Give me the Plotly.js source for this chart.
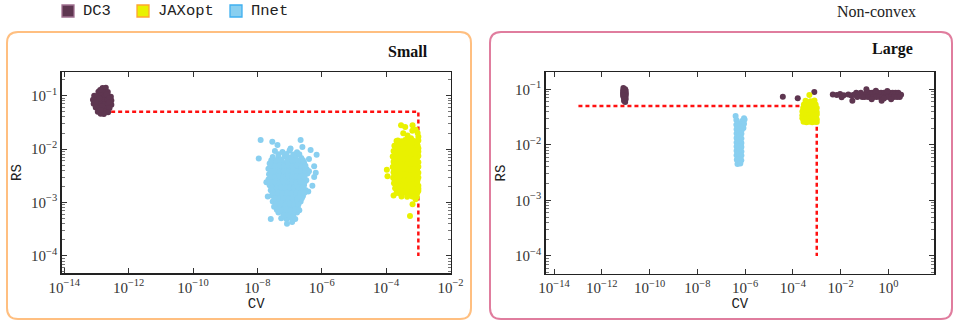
<!DOCTYPE html>
<html><head><meta charset="utf-8">
<script src="https://cdn.plot.ly/plotly-3.0.1.min.js"></script>
<style>html,body{margin:0;padding:0;background:#fff}#chart{width:953px;height:324px}</style>
</head><body><div id="chart"></div>
<script>
// ---------- data ----------
const seriesNames = ['DC3', 'JAXopt', 'Πnet'];
const panelTitles = ['Small', 'Large'];
const figureTitle = 'Non-convex';

// threshold boundary (CV, RS)
const thresholdCV = [1.05e-13, 1e-3, 1e-3];
const thresholdRS = [0.05, 0.05, 1e-4];

// tick exponents
const smallXTickExp = [-14, -12, -10, -8, -6, -4, -2];
const largeXTickExp = [-14, -12, -10, -8, -6, -4, -2, 0];
const yTickExp = [-4, -3, -2, -1];

// ---- Small problem: [CV, RS] ----
const smallDC3 = [
  [1.55e-13,0.139],[1.95e-13,0.141],
  [1.15e-13,0.118],[1.45e-13,0.12],[1.8e-13,0.116],[2.25e-13,0.117],
  [8.5e-14,0.1],[1.1e-13,0.098],[1.4e-13,0.1],[1.8e-13,0.097],[2.3e-13,0.099],[2.8e-13,0.096],
  [7.8e-14,0.084],[1.02e-13,0.082],[1.32e-13,0.085],[1.7e-13,0.082],[2.2e-13,0.084],[2.9e-13,0.081],
  [8.2e-14,0.071],[1.07e-13,0.069],[1.38e-13,0.071],[1.8e-13,0.069],[2.3e-13,0.07],[2.9e-13,0.068],
  [9.5e-14,0.06],[1.2e-13,0.058],[1.55e-13,0.06],[2e-13,0.058],[2.55e-13,0.059],
  [1.1e-13,0.05],[1.4e-13,0.049],[1.8e-13,0.05],[2.3e-13,0.049],
  [1.35e-13,0.046],[1.7e-13,0.0455],
  [1.3e-13,0.128],[2.05e-13,0.107],[1.25e-13,0.09],[2.5e-13,0.09],[9.5e-14,0.076],[2.55e-13,0.076],[1.5e-13,0.064],[1.35e-13,0.054]
];
const smallJAXopt = [
  [2.9e-4,2.8e-2],[3.9e-4,2.6e-2],[6.6e-4,2.8e-2],[8.3e-4,2.3e-2],[4.6e-4,1.8e-2],[3.4e-4,1.98e-2],
  [5.9e-4,1.6e-2],[9.5e-4,2e-2],[6.5e-4,2.2e-2],[1e-3,1.7e-2],[2.1e-4,1.42e-2],
  [2.3e-4,1.45e-2],[3e-4,1.4e-2],[3.9e-4,1.48e-2],[5e-4,1.42e-2],[6.5e-4,1.47e-2],[8.3e-4,1.4e-2],[1e-3,1.45e-2],
  [1.8e-4,1.15e-2],[2.3e-4,1.18e-2],[2.9e-4,1.13e-2],[3.7e-4,1.17e-2],[4.7e-4,1.13e-2],[6e-4,1.17e-2],[7.6e-4,1.13e-2],[9.5e-4,1.17e-2],
  [1.7e-4,9.2e-3],[2.1e-4,9.5e-3],[2.7e-4,9e-3],[3.4e-4,9.4e-3],[4.3e-4,9e-3],[5.5e-4,9.4e-3],[7e-4,9e-3],[8.8e-4,9.4e-3],[1e-3,9e-3],
  [1.6e-4,7.3e-3],[2e-4,7.1e-3],[2.5e-4,7.5e-3],[3.2e-4,7.1e-3],[4e-4,7.5e-3],[5e-4,7.1e-3],[6.3e-4,7.5e-3],[8e-4,7.1e-3],[1e-3,7.4e-3],
  [1.7e-4,5.8e-3],[2.15e-4,5.95e-3],[2.7e-4,5.65e-3],[3.4e-4,5.9e-3],[4.3e-4,5.65e-3],[5.5e-4,5.9e-3],[7e-4,5.65e-3],[8.8e-4,5.9e-3],[1e-3,5.7e-3],
  [1.6e-4,4.6e-3],[2e-4,4.5e-3],[2.5e-4,4.7e-3],[3.2e-4,4.5e-3],[4e-4,4.7e-3],[5e-4,4.5e-3],[6.3e-4,4.7e-3],[8e-4,4.5e-3],[1e-3,4.65e-3],
  [1.7e-4,3.7e-3],[2.15e-4,3.8e-3],[2.7e-4,3.6e-3],[3.4e-4,3.8e-3],[4.3e-4,3.6e-3],[5.5e-4,3.8e-3],[7e-4,3.6e-3],[8.8e-4,3.8e-3],[1e-3,3.6e-3],
  [1.65e-4,2.9e-3],[2.05e-4,2.85e-3],[2.6e-4,2.95e-3],[3.3e-4,2.85e-3],[4.2e-4,2.95e-3],[5.3e-4,2.85e-3],[6.7e-4,2.95e-3],[8.5e-4,2.85e-3],[1e-3,2.95e-3],
  [1.75e-4,2.3e-3],[2.2e-4,2.35e-3],[2.8e-4,2.25e-3],[3.6e-4,2.35e-3],[4.6e-4,2.25e-3],[5.8e-4,2.35e-3],[7.4e-4,2.25e-3],[9.2e-4,2.35e-3],
  [1.9e-4,1.85e-3],[2.4e-4,1.8e-3],[3.1e-4,1.88e-3],[4e-4,1.8e-3],[5.1e-4,1.88e-3],[6.5e-4,1.8e-3],[8.2e-4,1.88e-3],[1e-3,1.82e-3],
  [2.1e-4,1.5e-3],[2.7e-4,1.47e-3],[3.5e-4,1.52e-3],[4.5e-4,1.47e-3],[5.8e-4,1.52e-3],[7.4e-4,1.47e-3],[9.3e-4,1.52e-3],
  [3e-4,1.3e-3],[4.5e-4,1.28e-3],[6.5e-4,1.3e-3],[9e-4,1.28e-3],
  [1.05e-4,4.1e-3],[1.1e-4,3.1e-3],[1.7e-4,1.35e-3],[6.6e-4,9.3e-4],[5.5e-4,5.6e-4],[8.2e-4,1.15e-3],
  [2.6e-4,1.3e-2],[3.4e-4,1.28e-2],[4.4e-4,1.31e-2],[5.6e-4,1.27e-2],[7.2e-4,1.31e-2],[9e-4,1.28e-2],
  [2e-4,1.03e-2],[2.55e-4,1.05e-2],[3.2e-4,1.01e-2],[4.1e-4,1.05e-2],[5.2e-4,1.01e-2],[6.6e-4,1.05e-2],[8.4e-4,1.01e-2],[1e-3,1.04e-2],
  [1.85e-4,8.2e-3],[2.3e-4,8e-3],[2.9e-4,8.4e-3],[3.7e-4,8e-3],[4.7e-4,8.4e-3],[6e-4,8e-3],[7.5e-4,8.4e-3],[9.4e-4,8.1e-3],
  [1.8e-4,6.5e-3],[2.25e-4,6.7e-3],[2.85e-4,6.4e-3],[3.6e-4,6.7e-3],[4.5e-4,6.4e-3],[5.6e-4,6.7e-3],[7.1e-4,6.4e-3],[9e-4,6.6e-3],
  [1.8e-4,5.2e-3],[2.25e-4,5.1e-3],[2.85e-4,5.3e-3],[3.6e-4,5.1e-3],[4.5e-4,5.3e-3],[5.6e-4,5.1e-3],[7.1e-4,5.3e-3],[9e-4,5.1e-3],
  [1.8e-4,4.1e-3],[2.25e-4,4.2e-3],[2.85e-4,4e-3],[3.6e-4,4.2e-3],[4.5e-4,4e-3],[5.6e-4,4.2e-3],[7.1e-4,4e-3],[9e-4,4.2e-3],
  [1.8e-4,3.3e-3],[2.25e-4,3.25e-3],[2.85e-4,3.35e-3],[3.6e-4,3.25e-3],[4.5e-4,3.35e-3],[5.6e-4,3.25e-3],[7.1e-4,3.35e-3],[9e-4,3.25e-3],
  [1.85e-4,2.6e-3],[2.3e-4,2.65e-3],[2.9e-4,2.55e-3],[3.7e-4,2.65e-3],[4.7e-4,2.55e-3],[6e-4,2.65e-3],[7.5e-4,2.55e-3],[9.4e-4,2.62e-3],
  [2e-4,2.05e-3],[2.55e-4,2.02e-3],[3.2e-4,2.08e-3],[4.1e-4,2.02e-3],[5.2e-4,2.08e-3],[6.6e-4,2.02e-3],[8.4e-4,2.08e-3],[1e-3,2.05e-3],
  [2.4e-4,1.65e-3],[3.1e-4,1.62e-3],[4e-4,1.67e-3],[5.1e-4,1.62e-3],[6.5e-4,1.67e-3],[8.2e-4,1.63e-3],[1e-3,1.66e-3]
];
const smallPiNet = [
  [1.26e-8,1.48e-2],[2.9e-8,1.38e-2],[2.2e-7,1.48e-2],[1.1e-8,6.7e-3],[4.2e-8,1.2e-2],[1.07e-7,1.03e-2],
  [2.5e-7,1.1e-2],[4.5e-7,9.6e-3],[6.9e-7,7.8e-3],[5.8e-7,4.8e-3],[5.8e-7,3e-3],[1.9e-8,2.4e-3],
  [2.1e-8,1.3e-3],[6.5e-7,3.6e-3],[5.1e-7,2.05e-3],[2.6e-8,4.9e-4],[4e-7,6.5e-3],[3.8e-7,1.6e-3],
  [3.5e-8,9.2e-3],[6e-8,8.8e-3],[1e-7,9.4e-3],[1.7e-7,8.7e-3],
  [3e-8,7.1e-3],[4.5e-8,6.8e-3],[7e-8,7.3e-3],[1e-7,6.9e-3],[1.5e-7,7.2e-3],[2.3e-7,6.8e-3],
  [2.4e-8,5.4e-3],[3.3e-8,5.7e-3],[4.5e-8,5.5e-3],[6e-8,5.3e-3],[8e-8,5.6e-3],[1.1e-7,5.4e-3],[1.5e-7,5.7e-3],[2e-7,5.3e-3],[2.8e-7,5.6e-3],
  [2.2e-8,4.3e-3],[3e-8,4.1e-3],[4e-8,4.4e-3],[5.5e-8,4.2e-3],[7.5e-8,4.4e-3],[1e-7,4.2e-3],[1.35e-7,4.4e-3],[1.8e-7,4.1e-3],[2.5e-7,4.3e-3],[3.4e-7,4.2e-3],
  [2.3e-8,3.4e-3],[3.2e-8,3.5e-3],[4.4e-8,3.3e-3],[6e-8,3.5e-3],[8.2e-8,3.3e-3],[1.1e-7,3.5e-3],[1.5e-7,3.3e-3],[2e-7,3.5e-3],[2.7e-7,3.3e-3],[3.6e-7,3.5e-3],
  [2.2e-8,2.7e-3],[3e-8,2.6e-3],[4e-8,2.8e-3],[5.5e-8,2.6e-3],[7.5e-8,2.75e-3],[1e-7,2.6e-3],[1.35e-7,2.8e-3],[1.8e-7,2.65e-3],[2.5e-7,2.75e-3],[3.3e-7,2.6e-3],
  [2.4e-8,2.1e-3],[3.3e-8,2.2e-3],[4.5e-8,2.05e-3],[6e-8,2.15e-3],[8e-8,2.05e-3],[1.1e-7,2.2e-3],[1.5e-7,2.05e-3],[2e-7,2.15e-3],[2.8e-7,2.1e-3],
  [2.6e-8,1.7e-3],[3.6e-8,1.65e-3],[5e-8,1.75e-3],[7e-8,1.65e-3],[9.5e-8,1.72e-3],[1.3e-7,1.66e-3],[1.75e-7,1.74e-3],[2.4e-7,1.66e-3],[3.1e-7,1.72e-3],
  [2.8e-8,1.35e-3],[4e-8,1.32e-3],[5.5e-8,1.38e-3],[7.5e-8,1.32e-3],[1e-7,1.37e-3],[1.4e-7,1.33e-3],[1.9e-7,1.37e-3],[2.6e-7,1.33e-3],
  [3e-8,1.05e-3],[4.2e-8,1.08e-3],[6e-8,1.03e-3],[8.5e-8,1.07e-3],[1.2e-7,1.03e-3],[1.6e-7,1.07e-3],[2.2e-7,1.04e-3],
  [3.3e-8,8.3e-4],[4.8e-8,8.1e-4],[6.8e-8,8.4e-4],[9.5e-8,8.1e-4],[1.3e-7,8.4e-4],[1.8e-7,8.2e-4],
  [4.5e-8,6.5e-4],[6.5e-8,6.3e-4],[9e-8,6.6e-4],[1.25e-7,6.3e-4],[1.7e-7,6.5e-4],
  [5.5e-8,5.1e-4],[8e-8,4.9e-4],[1.1e-7,5.2e-4],[1.5e-7,4.9e-4],
  [8.3e-8,4e-4],[1.2e-7,4.3e-4],
  [4.5e-8,8e-3],[8e-8,8.1e-3],[1.3e-7,7.9e-3],[2e-7,8e-3],
  [2.7e-8,6.2e-3],[3.8e-8,6.1e-3],[5.5e-8,6.3e-3],[8.5e-8,6.1e-3],[1.2e-7,6.3e-3],[1.8e-7,6.1e-3],[2.6e-7,6.2e-3],
  [2.6e-8,4.9e-3],[3.5e-8,4.8e-3],[4.9e-8,5e-3],[6.8e-8,4.8e-3],[9.2e-8,5e-3],[1.25e-7,4.8e-3],[1.7e-7,5e-3],[2.3e-7,4.8e-3],[3.1e-7,4.9e-3],
  [2.6e-8,3.8e-3],[3.6e-8,3.9e-3],[4.8e-8,3.75e-3],[6.6e-8,3.9e-3],[9e-8,3.75e-3],[1.25e-7,3.9e-3],[1.65e-7,3.75e-3],[2.25e-7,3.9e-3],[3e-7,3.75e-3],[4e-7,3.85e-3],
  [2.6e-8,3.05e-3],[3.5e-8,3e-3],[4.8e-8,3.1e-3],[6.5e-8,3e-3],[9e-8,3.1e-3],[1.2e-7,3e-3],[1.65e-7,3.1e-3],[2.2e-7,3e-3],[2.9e-7,3.08e-3],
  [2.6e-8,2.4e-3],[3.5e-8,2.45e-3],[4.8e-8,2.35e-3],[6.5e-8,2.45e-3],[9e-8,2.35e-3],[1.2e-7,2.45e-3],[1.6e-7,2.35e-3],[2.2e-7,2.45e-3],[2.9e-7,2.38e-3],
  [2.9e-8,1.9e-3],[4e-8,1.87e-3],[5.4e-8,1.93e-3],[7.3e-8,1.87e-3],[1e-7,1.93e-3],[1.35e-7,1.87e-3],[1.8e-7,1.93e-3],[2.5e-7,1.88e-3],
  [3.1e-8,1.5e-3],[4.3e-8,1.53e-3],[6e-8,1.48e-3],[8.3e-8,1.53e-3],[1.15e-7,1.48e-3],[1.6e-7,1.53e-3],[2.2e-7,1.48e-3],[2.9e-7,1.52e-3],
  [3.4e-8,1.2e-3],[4.8e-8,1.18e-3],[6.5e-8,1.22e-3],[9e-8,1.18e-3],[1.25e-7,1.22e-3],[1.75e-7,1.18e-3],[2.4e-7,1.2e-3],
  [3.8e-8,9.3e-4],[5.2e-8,9.5e-4],[7.3e-8,9.1e-4],[1e-7,9.5e-4],[1.4e-7,9.1e-4],[1.9e-7,9.4e-4],
  [4e-8,7.3e-4],[5.6e-8,7.1e-4],[7.8e-8,7.4e-4],[1.1e-7,7.1e-4],[1.5e-7,7.4e-4],[2e-7,7.2e-4],
  [6.5e-8,5.7e-4],[9.5e-8,5.8e-4],[1.3e-7,5.6e-4]
];

// ---- Large problem: [CV, RS] ----
const largeDC3 = [
  [8e-12,0.105],[9.5e-12,0.1],[7.8e-12,0.095],[1e-11,0.094],[7.8e-12,0.087],[1e-11,0.086],[8.8e-12,0.09],
  [8.8e-12,0.08],[7.8e-12,0.076],[1e-11,0.076],[8.5e-12,0.069],[1e-11,0.067],[8.5e-12,0.062],[9.5e-12,0.059],
  [8.8e-12,0.072],[1e-11,0.082],[7.8e-12,0.082],[8.8e-12,0.097],
  [3.8e-5,0.0736],[1.6e-4,0.069],[7.9e-4,0.089],
  [4.7e-3,0.081],[6.9e-3,0.079],[9.5e-3,0.082],[1.35e-2,0.078],[2.1e-2,0.081],[2.8e-2,0.077],[1.1e-2,0.072],[3.1e-2,0.062],[3.6e-2,0.08],
  [0.045,0.087],[0.07,0.087],[0.12,0.087],[0.16,0.087],[0.21,0.087],[0.28,0.087],[0.37,0.087],[0.49,0.087],[0.65,0.087],[0.85,0.087],[1.1,0.087],[1.5,0.087],[2.0,0.087],[2.6,0.087],
  [0.04,0.08],[0.053,0.08],[0.07,0.08],[0.092,0.08],[0.12,0.08],[0.16,0.08],[0.21,0.08],[0.28,0.08],[0.37,0.08],[0.49,0.08],[0.65,0.08],[0.85,0.08],[1.1,0.08],[1.5,0.08],[2.0,0.08],[2.6,0.08],[3.4,0.08],
  [0.05,0.073],[0.08,0.073],[0.1,0.073],[0.14,0.073],[0.18,0.073],[0.24,0.073],[0.32,0.073],[0.43,0.073],[0.57,0.073],[0.75,0.073],[1.0,0.073],[1.3,0.073],[1.7,0.073],[2.3,0.073],[3.0,0.073],
  [0.12,0.1],[0.52,0.062],[0.3,0.094],[0.9,0.093],[0.2,0.066],[1.3,0.066],[0.65,0.068]
];
const largeJAXopt = [
  [4.9e-4,0.079],
  [3.4e-4,0.062],[5.5e-4,0.061],[8e-4,0.063],
  [2.9e-4,0.053],[3.9e-4,0.054],[5.2e-4,0.052],[6.9e-4,0.054],[9e-4,0.053],
  [2.7e-4,0.046],[3.6e-4,0.045],[4.8e-4,0.047],[6.3e-4,0.045],[8.3e-4,0.047],[1e-3,0.046],
  [2.5e-4,0.04],[3.3e-4,0.039],[4.4e-4,0.041],[5.8e-4,0.039],[7.6e-4,0.041],[1e-3,0.039],
  [2.5e-4,0.034],[3.3e-4,0.035],[4.4e-4,0.034],[5.8e-4,0.035],[7.6e-4,0.034],[1e-3,0.035],
  [2.5e-4,0.03],[3.3e-4,0.029],[4.4e-4,0.03],[5.8e-4,0.029],[7.6e-4,0.03],[1e-3,0.029],
  [2.8e-4,0.026],[3.7e-4,0.0255],[4.9e-4,0.026],[6.5e-4,0.0255],[8.5e-4,0.026],[1e-3,0.0257]
];
const largePiNet = [
  [4e-7,0.033],[9e-7,0.03],
  [4.3e-7,0.028],[7.5e-7,0.027],[9.5e-7,0.0285],
  [4.3e-7,0.023],[5.7e-7,0.024],[7.5e-7,0.022],[9e-7,0.024],
  [4.4e-7,0.019],[5.7e-7,0.0195],[7.2e-7,0.0185],[8.5e-7,0.02],
  [4.4e-7,0.016],[5.6e-7,0.0165],[7e-7,0.0158],
  [4.4e-7,0.0133],[5.6e-7,0.0137],[7e-7,0.013],
  [4.4e-7,0.011],[5.6e-7,0.0113],[7e-7,0.0108],
  [4.4e-7,0.0093],[5.6e-7,0.0095],[7e-7,0.0091],
  [4.4e-7,0.0078],[5.6e-7,0.008],[7e-7,0.0076],
  [4.4e-7,0.0065],[5.6e-7,0.0066],[7e-7,0.0064],
  [4.5e-7,0.0054],[5.7e-7,0.0055],[6.9e-7,0.0053],
  [4.8e-7,0.0045],[6.3e-7,0.0046]
];

// ---------- styling ----------
const colors = { 'DC3': '#5E3650', 'JAXopt': '#E9F100', 'Πnet': '#89CFF0' };
const legendBorder = { 'DC3': '#A07090', 'JAXopt': '#FFA530', 'Πnet': '#3FB0F0' };
const W = 953, H = 324;
const px = v => v / W;
const py = v => 1 - v / H;
const serif = 'Liberation Serif';
const mono = 'Liberation Mono';

const tickText = e => '10<sup>' + (e < 0 ? '−' + (-e) : e) + '</sup>';
const minorY = [];
for (let d = -5; d <= -1; d++) for (let m = 2; m <= 9; m++) minorY.push(m * Math.pow(10, d));

function scatterTrace(pts, name, xa, ya) {
  return {
    type: 'scatter', mode: 'markers', name: name, showlegend: false,
    x: pts.map(p => p[0]), y: pts.map(p => p[1]), xaxis: xa, yaxis: ya,
    marker: { color: colors[name], size: 6, line: { width: 0 } },
    hoverinfo: 'skip'
  };
}
function thresholdTrace(xa, ya) {
  return {
    type: 'scatter', mode: 'lines', showlegend: false, name: 'threshold',
    x: thresholdCV, y: thresholdRS, xaxis: xa, yaxis: ya,
    line: { color: '#FF1010', width: 2.5, dash: '4px,3px' }, hoverinfo: 'skip'
  };
}

const data = [
  thresholdTrace('x', 'y'),
  scatterTrace(smallDC3, 'DC3', 'x', 'y'),
  scatterTrace(smallJAXopt, 'JAXopt', 'x', 'y'),
  scatterTrace(smallPiNet, 'Πnet', 'x', 'y'),
  thresholdTrace('x2', 'y2'),
  scatterTrace(largeDC3, 'DC3', 'x2', 'y2'),
  scatterTrace(largeJAXopt, 'JAXopt', 'x2', 'y2'),
  scatterTrace(largePiNet, 'Πnet', 'x2', 'y2')
];

function xAxis(domain, range, exps, anchor) {
  return {
    type: 'log', domain: domain, range: range, anchor: anchor,
    tickmode: 'array', tickvals: exps.map(e => Math.pow(10, e)), ticktext: exps.map(tickText),
    ticks: 'inside', ticklen: 5, tickwidth: 1, tickcolor: '#333',
    showline: true, linecolor: '#222', linewidth: 1.5, mirror: 'ticks',
    showgrid: false, zeroline: false,
    tickfont: { family: serif, size: 15, color: '#333' },
    title: { text: 'CV', font: { family: mono, size: 14, color: '#222' }, standoff: 3 }
  };
}
function yAxis(domain, range, anchor) {
  return {
    type: 'log', domain: domain, range: range, anchor: anchor,
    tickmode: 'array', tickvals: yTickExp.map(e => Math.pow(10, e)), ticktext: yTickExp.map(tickText),
    ticks: 'inside', ticklen: 5, tickwidth: 1, tickcolor: '#333',
    minor: { tickmode: 'array', tickvals: minorY, ticks: 'inside', ticklen: 3, tickwidth: 0.8, tickcolor: '#555', showgrid: false },
    showline: true, linecolor: '#222', linewidth: 1.5, mirror: 'ticks',
    showgrid: false, zeroline: false,
    tickfont: { family: serif, size: 15, color: '#333' },
    title: { text: 'RS', font: { family: mono, size: 14, color: '#222' }, standoff: 6 }
  };
}

function roundRect(x0, y0, x1, y1, r, color) {
  const X0 = px(x0), X1 = px(x1), Yt = py(y0), Yb = py(y1), rx = r / W, ry = r / H;
  const path = `M ${X0 + rx},${Yt} L ${X1 - rx},${Yt} Q ${X1},${Yt} ${X1},${Yt - ry} L ${X1},${Yb + ry} Q ${X1},${Yb} ${X1 - rx},${Yb} L ${X0 + rx},${Yb} Q ${X0},${Yb} ${X0},${Yb + ry} L ${X0},${Yt - ry} Q ${X0},${Yt} ${X0 + rx},${Yt} Z`;
  return { type: 'path', xref: 'paper', yref: 'paper', path: path, line: { color: color, width: 2 }, fillcolor: 'rgba(0,0,0,0)', layer: 'below' };
}

const legendX = [62, 137, 230];
const shapes = [
  roundRect(7, 32, 471, 319, 11, '#FFBF80'),
  roundRect(490, 32, 952, 319, 11, '#E07D9E')
];
const annotations = [];
seriesNames.forEach((n, i) => {
  shapes.push({ type: 'rect', xref: 'paper', yref: 'paper', x0: px(legendX[i]), x1: px(legendX[i] + 12), y0: py(17), y1: py(5),
    fillcolor: colors[n], line: { color: legendBorder[n], width: 1.3 } });
  annotations.push({ xref: 'paper', yref: 'paper', x: px(legendX[i] + 19), y: py(11), xanchor: 'left', yanchor: 'middle',
    text: n, showarrow: false, font: { family: mono, size: 15.5, color: '#222' } });
});
annotations.push({ xref: 'paper', yref: 'paper', x: px(876), y: py(12), xanchor: 'center', yanchor: 'middle',
  text: figureTitle, showarrow: false, font: { family: serif, size: 16, color: '#222' } });
annotations.push({ xref: 'paper', yref: 'paper', x: px(408), y: py(51), xanchor: 'center', yanchor: 'middle',
  text: '<b>' + panelTitles[0] + '</b>', showarrow: false, font: { family: serif, size: 16, color: '#111' } });
annotations.push({ xref: 'paper', yref: 'paper', x: px(892), y: py(49), xanchor: 'center', yanchor: 'middle',
  text: '<b>' + panelTitles[1] + '</b>', showarrow: false, font: { family: serif, size: 16, color: '#111' } });

const layout = {
  width: W, height: H, margin: { l: 0, r: 0, t: 0, b: 0 },
  font: { family: serif, color: '#222' },
  paper_bgcolor: '#fff', plot_bgcolor: 'rgba(0,0,0,0)', showlegend: false,
  xaxis: xAxis([px(61.7), px(450.7)], [-14.08, -1.995], smallXTickExp, 'y'),
  yaxis: yAxis([1 - 273 / H, 1 - 72 / H], [-4.32, -0.556], 'x'),
  xaxis2: xAxis([px(545.7), px(934)], [-14.35, 1.91], largeXTickExp, 'y2'),
  yaxis2: yAxis([1 - 273.7 / H, 1 - 72.3 / H], [-4.32, -0.694], 'x2'),
  shapes: shapes, annotations: annotations
};

Plotly.newPlot('chart', data, layout, { staticPlot: true, displayModeBar: false });
</script>
</body></html>
